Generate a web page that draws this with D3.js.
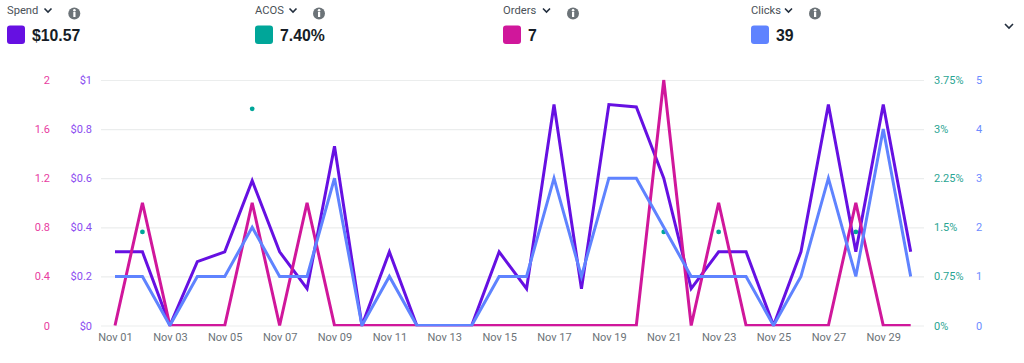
<!DOCTYPE html>
<html>
<head>
<meta charset="utf-8">
<script src="https://cdn.jsdelivr.net/npm/d3@7"></script>
<style>
  html, body { margin: 0; padding: 0; background: #fff; }
  svg { display: block; }
  text { font-family: Roboto, sans-serif; }
  .axis path.domain { display: none; }
</style>
</head>
<body>
<div id="div_chart"></div>
<script>
// Data
var days = ["Nov 01", "Nov 02", "Nov 03", "Nov 04", "Nov 05", "Nov 06", "Nov 07", "Nov 08", "Nov 09", "Nov 10",
            "Nov 11", "Nov 12", "Nov 13", "Nov 14", "Nov 15", "Nov 16", "Nov 17", "Nov 18", "Nov 19", "Nov 20",
            "Nov 21", "Nov 22", "Nov 23", "Nov 24", "Nov 25", "Nov 26", "Nov 27", "Nov 28", "Nov 29", "Nov 30"];
var spend  = [0.30, 0.30, 0, 0.26, 0.30, 0.59, 0.30, 0.15, 0.73, 0, 0.30, 0, 0, 0, 0.30, 0.15, 0.90, 0.15, 0.90, 0.89,
              0.60, 0.15, 0.30, 0.30, 0, 0.30, 0.90, 0.30, 0.90, 0.30];
var orders = [0, 1, 0, 0, 0, 1, 0, 1, 0, 0, 0, 0, 0, 0, 0, 0, 0, 0, 0, 0, 2, 0, 1, 0, 0, 0, 0, 1, 0, 0];
var clicks = [1, 1, 0, 1, 1, 2, 1, 1, 3, 0, 1, 0, 0, 0, 1, 1, 3, 1, 3, 3, 2, 1, 1, 1, 0, 1, 3, 1, 4, 1];
var acosDays = ["Nov 02", "Nov 06", "Nov 21", "Nov 23", "Nov 28"];
var acos     = [1.43, 3.31, 1.43, 1.43, 1.43];

var spendTicks  = [0, 0.2, 0.4, 0.6, 0.8, 1];
var ordersTicks = [0, 0.4, 0.8, 1.2, 1.6, 2];
var acosTicks   = [0, 0.75, 1.5, 2.25, 3, 3.75];
var clicksTicks = [0, 1, 2, 3, 4, 5];

var metricNames  = ["Spend", "ACOS", "Orders", "Clicks"];
var metricTotals = ["$10.57", "7.40%", "7", "39"];
var metricColors = ["#6610e2", "#00a699", "#d0179b", "#5f83ff"];

var svgWidth = 1024;
var svgHeight = 363;

var svg = d3.select("#div_chart")
    .append("svg")
        .attr("width", svgWidth)
        .attr("height", svgHeight);

// Plot area clips the lines at the top and bottom gridlines
svg.append("clipPath")
    .attr("id", "plot-clip")
    .append("rect")
        .attr("x", 100)
        .attr("y", 79.5)
        .attr("width", 825)
        .attr("height", 246.7);

// Scales
var x = d3.scalePoint().domain(days).range([115, 910.7]);
var ySpend  = d3.scaleLinear().domain([0, 1]).range([325.5, 80]);
var yOrders = d3.scaleLinear().domain([0, 2]).range([325.5, 80]);
var yAcos   = d3.scaleLinear().domain([0, 3.75]).range([325.5, 80]);
var yClicks = d3.scaleLinear().domain([0, 5]).range([325.5, 80]);

// Header blocks
var header = svg.selectAll(".metric")
    .data(metricNames)
    .join("g")
        .attr("class", "metric")
        .attr("transform", (d, i) => "translate(" + (7 + i * 248) + ",0)");

header.append("text")
    .attr("x", 0)
    .attr("y", 14)
    .attr("font-size", 11.2)
    .attr("fill", "#4a5157")
    .text(d => d);

var chevronX = [37.5, 34.5, 40, 34];
header.append("path")
    .attr("d", (d, i) => "M" + chevronX[i] + ",8.5l3.5,3.5l3.5,-3.5")
    .attr("fill", "none")
    .attr("stroke", "#232f3e")
    .attr("stroke-width", 1.6);

var infoX = [67.3, 64, 70, 64];
header.append("circle")
    .attr("cx", (d, i) => infoX[i])
    .attr("cy", 13.5)
    .attr("r", 6)
    .attr("fill", "#6c7378");
header.append("rect")
    .attr("x", (d, i) => infoX[i] - 1)
    .attr("y", 12)
    .attr("width", 2.2)
    .attr("height", 5)
    .attr("fill", "#fff");
header.append("circle")
    .attr("cx", (d, i) => infoX[i] + 0.1)
    .attr("cy", 10.2)
    .attr("r", 1.3)
    .attr("fill", "#fff");

header.append("rect")
    .attr("x", 0)
    .attr("y", 25.5)
    .attr("width", 18)
    .attr("height", 18.5)
    .attr("rx", 3)
    .attr("fill", (d, i) => metricColors[i]);

header.append("text")
    .attr("x", 25)
    .attr("y", 40.5)
    .style("font-family", "'Liberation Sans', sans-serif")
    .attr("font-size", 15.8)
    .attr("font-weight", "bold")
    .attr("fill", "#161d26")
    .text((d, i) => metricTotals[i]);

// Collapse chevron, top right
svg.append("path")
    .attr("d", "M1005,24l4,4l4,-4")
    .attr("fill", "none")
    .attr("stroke", "#232f3e")
    .attr("stroke-width", 1.6);

// Gridlines
svg.append("g")
    .attr("class", "axis grid")
    .attr("transform", "translate(101,0)")
    .call(d3.axisRight(ySpend).tickValues(spendTicks).tickSize(823).tickFormat(""))
    .selectAll("line")
        .attr("stroke", "#ebeded")
        .attr("stroke-width", 1.2);

// Y axes
function yAxis(axis, xPos, color) {
    var g = svg.append("g")
        .attr("class", "axis")
        .attr("transform", "translate(" + xPos + ",0)")
        .call(axis.tickSize(0).tickPadding(0));
    g.selectAll("text")
        .attr("fill", color)
        .attr("font-size", 11);
}

yAxis(d3.axisLeft(yOrders).tickValues(ordersTicks).tickFormat(d => d), 50, "#e8409f");
yAxis(d3.axisLeft(ySpend).tickValues(spendTicks).tickFormat(d => "$" + d), 92, "#8b4df0");
yAxis(d3.axisRight(yAcos).tickValues(acosTicks).tickFormat(d => d + "%"), 934, "#2aa593");
yAxis(d3.axisRight(yClicks).tickValues(clicksTicks).tickFormat(d => d), 976, "#6d8cff");

// X axis
var xAxis = svg.append("g")
    .attr("class", "axis")
    .attr("transform", "translate(0,333)")
    .call(d3.axisBottom(x).tickValues(days.filter((d, i) => i % 2 == 0)).tickSize(0).tickPadding(0));
xAxis.selectAll("text")
    .attr("fill", "#6c7378")
    .attr("font-size", 11);

// Lines
var plot = svg.append("g").attr("clip-path", "url(#plot-clip)");

function drawLine(values, yScale, color) {
    plot.append("path")
        .datum(values)
        .attr("fill", "none")
        .attr("stroke", color)
        .attr("stroke-width", 3)
        .attr("d", d3.line().x((d, i) => x(days[i])).y(d => yScale(d)));
}

drawLine(spend, ySpend, metricColors[0]);

plot.selectAll(".acos-dot")
    .data(acos)
    .join("circle")
        .attr("class", "acos-dot")
        .attr("cx", (d, i) => x(acosDays[i]))
        .attr("cy", d => yAcos(d))
        .attr("r", 2.4)
        .attr("fill", metricColors[1]);

drawLine(orders, yOrders, metricColors[2]);
drawLine(clicks, yClicks, metricColors[3]);
</script>
</body>
</html>
